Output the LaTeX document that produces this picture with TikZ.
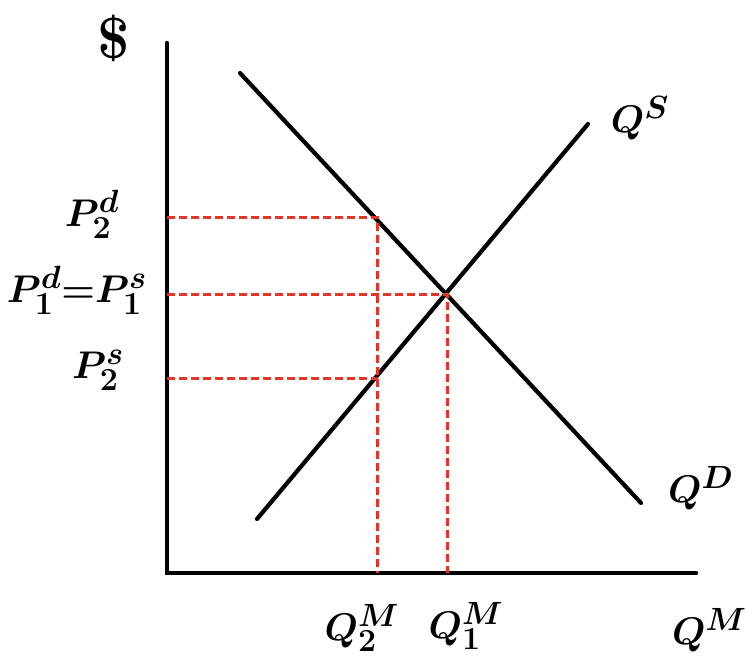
\documentclass[tikz,border=0pt]{standalone}
\usepackage{xcolor}
\definecolor{dashred}{RGB}{232,52,38}
\newcommand{\biglbl}[1]{\scalebox{1.55}{\fontsize{24.88}{26}\selectfont\boldmath #1}}
\begin{document}
\begin{tikzpicture}[x=1pt,y=-1pt,
  axisline/.style={line width=4.4pt,line cap=round},
  curveline/.style={line width=4.2pt,line cap=round},
  guide/.style={dashred,line width=3pt,dash pattern=on 8pt off 4pt},
  lbl/.style={inner sep=0pt}]
\useasboundingbox (0,0) rectangle (746,666);
% axes
\coordinate (ytop) at (167,43);
\coordinate (orig) at (167,573);
\coordinate (xend) at (696,573);
\draw[axisline] (ytop) -- (orig) -- (xend);
% curves
\coordinate (d1) at (240,73);
\coordinate (d2) at (641,503);
\coordinate (s1) at (257,519);
\coordinate (s2) at (588,124);
\draw[curveline] (d1) -- (d2);
\draw[curveline] (s1) -- (s2);
% guide points
\coordinate (pd2) at (167,217);
\coordinate (a) at (377,217);
\coordinate (qm2) at (377,573);
\coordinate (p1) at (167,294);
\coordinate (e) at (447,294);
\coordinate (qm1) at (447,573);
\coordinate (ps2) at (167,378);
\coordinate (b) at (377,378);
\draw[guide] (pd2) -- (a) -- (qm2);
\draw[guide] (p1) -- (e) -- (qm1);
\draw[guide] (ps2) -- (b);
% labels
\node[lbl] (dollar) at (114,38) {\scalebox{1.5}{\biglbl{\textbf{\$}}}};
\node[lbl] (lpd2) at (92,214) {\biglbl{$P^{d}_{2}$}};
\node[lbl] (lp1) at (77,290) {\biglbl{$P^{d}_{1}{=}P^{s}_{1}$}};
\node[lbl] (lps2) at (98,370) {\biglbl{$P^{s}_{2}$}};
\node[lbl] (lqm2) at (362,628) {\biglbl{$Q^{M}_{2}$}};
\node[lbl] (lqm1) at (466,626) {\biglbl{$Q^{M}_{1}$}};
\node[lbl,anchor=west] (lqm) at (672,630) {\biglbl{$Q^{M}$}};
\node[lbl] (lqs) at (640,118) {\biglbl{$Q^{S}$}};
\node[lbl,anchor=west] (lqd) at (668,488) {\biglbl{$Q^{D}$}};
\end{tikzpicture}
\end{document}
